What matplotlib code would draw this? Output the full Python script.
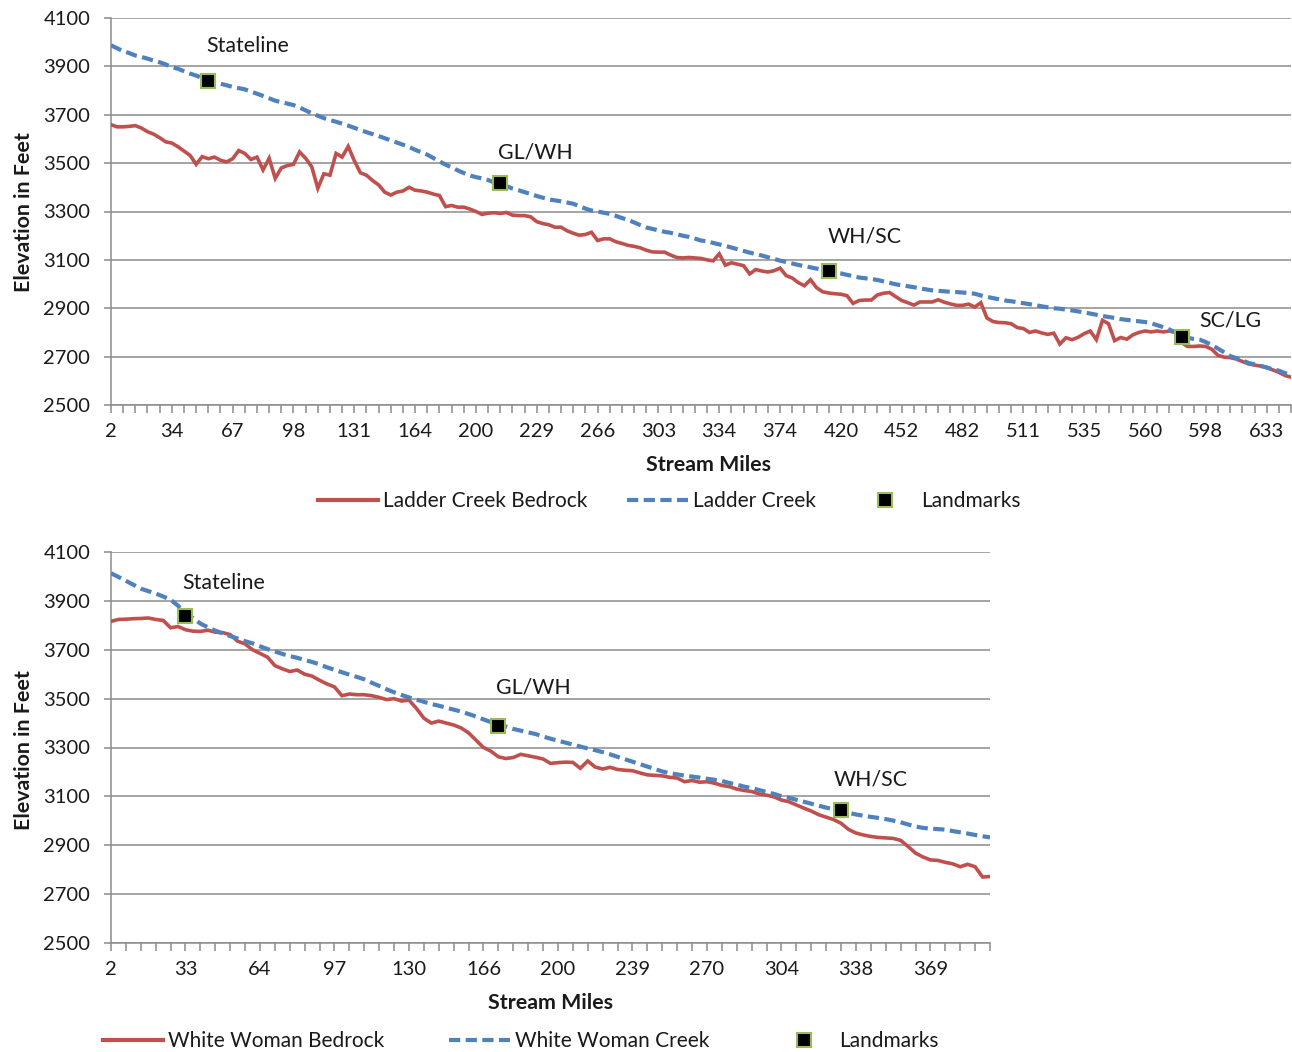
import matplotlib
matplotlib.use('Agg')
import matplotlib.pyplot as plt
from matplotlib.lines import Line2D
from matplotlib.ticker import FixedLocator, FixedFormatter, NullFormatter

plt.rcParams['font.family'] = ['Lato', 'DejaVu Sans']

# ---------------- data: Ladder Creek (top) ----------------
top_tick_labels = ['2', '34', '67', '98', '131', '164', '200', '229', '266', '303',
                   '334', '374', '420', '452', '482', '511', '535', '560', '598', '633']
top_bedrock = [
    3659, 3650, 3650, 3652, 3655, 3645, 3630, 3620, 3605, 3588,
    3583, 3568, 3550, 3532, 3495, 3527, 3518, 3525, 3512, 3505,
    3518, 3552, 3540, 3515, 3525, 3472, 3520, 3437, 3480, 3490,
    3495, 3546, 3520, 3485, 3396, 3456, 3450, 3540, 3525, 3569,
    3510, 3460, 3450, 3428, 3410, 3380, 3368, 3380, 3385, 3400,
    3388, 3385, 3380, 3372, 3366, 3320, 3325, 3318, 3318, 3310,
    3300, 3288, 3293, 3295, 3292, 3296, 3285, 3283, 3283, 3278,
    3258, 3250, 3245, 3235, 3235, 3220, 3210, 3202, 3205, 3214,
    3180, 3187, 3187, 3175, 3168, 3160, 3156, 3150, 3140, 3133,
    3132, 3132, 3120, 3110, 3108, 3110, 3108, 3106, 3100, 3096,
    3125, 3078, 3088, 3082, 3076, 3042, 3060, 3054, 3050, 3055,
    3066, 3035, 3025, 3006, 2993, 3018, 2985, 2968, 2963, 2960,
    2958, 2952, 2920, 2932, 2934, 2934, 2955, 2962, 2965, 2948,
    2932, 2923, 2913, 2926, 2926, 2926, 2935, 2925, 2918, 2912,
    2912, 2917, 2905, 2923, 2860, 2845, 2841, 2840, 2836, 2820,
    2816, 2800, 2806, 2798, 2792, 2797, 2752, 2778, 2770, 2780,
    2795, 2806, 2770, 2850, 2836, 2766, 2779, 2772, 2790, 2800,
    2806, 2802, 2806, 2802, 2806, 2800, 2758, 2742, 2742, 2744,
    2742, 2730, 2705, 2698, 2696, 2690, 2680, 2670, 2665, 2661,
    2655, 2645, 2635, 2622, 2615]
top_creek = [
    3987, 3975, 3963, 3955, 3945, 3939, 3932, 3924, 3917, 3908,
    3897, 3890, 3880, 3870, 3862, 3852, 3842, 3834, 3828, 3822,
    3815, 3810, 3805, 3796, 3787, 3778, 3768, 3758, 3752, 3746,
    3740, 3730, 3718, 3706, 3696, 3686, 3678, 3671, 3663, 3655,
    3646, 3637, 3628, 3620, 3612, 3603, 3594, 3585, 3576, 3567,
    3555, 3545, 3535, 3521, 3507, 3494, 3482, 3470, 3459, 3449,
    3442, 3437, 3430, 3420, 3413, 3405, 3395, 3388, 3380, 3372,
    3364, 3357, 3350, 3346, 3342, 3337, 3332, 3322, 3312, 3304,
    3300, 3295, 3290, 3282, 3273, 3265, 3255, 3244, 3234, 3228,
    3222, 3216, 3212, 3206, 3200, 3195, 3188, 3180, 3177, 3170,
    3164, 3158, 3151, 3144, 3137, 3130, 3124, 3118, 3111, 3104,
    3097, 3091, 3085, 3079, 3074, 3069, 3064, 3059, 3054, 3048,
    3044, 3038, 3033, 3027, 3024, 3021, 3017, 3011, 3005, 2999,
    2995, 2991, 2987, 2982, 2978, 2974, 2972, 2970, 2968, 2967,
    2965, 2963, 2960, 2953, 2947, 2942, 2937, 2932, 2929, 2925,
    2921, 2917, 2913, 2908, 2904, 2900, 2898, 2894, 2891, 2887,
    2883, 2878, 2873, 2868, 2864, 2860, 2855, 2852, 2849, 2846,
    2843, 2838, 2830, 2822, 2812, 2800, 2785, 2778, 2773, 2770,
    2760, 2748, 2733, 2718, 2702, 2694, 2685, 2674, 2668, 2662,
    2655, 2648, 2642, 2632, 2624]
top_landmark_idx = [16, 64, 118, 176]
top_landmark_val = [3840, 3418, 3054, 2783]
top_landmark_names = ['Stateline', 'GL/WH', 'WH/SC', 'SC/LG']

# ---------------- data: White Woman Creek (bottom) ----------------
bot_tick_labels = ['2', '33', '64', '97', '130', '166', '200', '239', '270', '304', '338', '369']
bot_bedrock = [
    3816, 3824, 3825, 3827, 3828, 3830, 3824, 3820, 3790, 3795,
    3782, 3776, 3775, 3780, 3772, 3770, 3762, 3735, 3724, 3700,
    3685, 3670, 3635, 3622, 3611, 3617, 3600, 3592, 3575, 3560,
    3548, 3512, 3519, 3516, 3516, 3512, 3505, 3496, 3500, 3490,
    3494, 3460, 3420, 3400, 3408, 3400, 3392, 3380, 3360, 3330,
    3300, 3285, 3262, 3255, 3259, 3272, 3266, 3260, 3253, 3235,
    3238, 3240, 3239, 3215, 3245, 3220, 3212, 3219, 3210, 3207,
    3205, 3196, 3188, 3186, 3184, 3178, 3175, 3160, 3165, 3158,
    3160, 3154, 3145, 3140, 3130, 3124, 3120, 3110, 3105, 3098,
    3085, 3078, 3065, 3052, 3040, 3025, 3015, 3005, 2990, 2965,
    2950, 2942, 2936, 2932, 2930, 2928, 2920, 2895, 2868, 2852,
    2840, 2838, 2830, 2824, 2812, 2822, 2812, 2770, 2772]
bot_creek = [
    4013, 3998, 3982, 3966, 3950, 3940, 3930, 3918, 3905, 3880,
    3850, 3830, 3807, 3792, 3778, 3767, 3756, 3746, 3735, 3726,
    3714, 3703, 3693, 3683, 3674, 3667, 3658, 3650, 3640, 3628,
    3618, 3608, 3598, 3589, 3579, 3565, 3552, 3538, 3526, 3515,
    3505, 3496, 3487, 3478, 3471, 3463, 3455, 3447, 3437, 3427,
    3415, 3404, 3395, 3386, 3376, 3369, 3362, 3355, 3345, 3336,
    3328, 3320, 3312, 3304, 3296, 3289, 3281, 3272, 3262, 3252,
    3242, 3232, 3222, 3212, 3202, 3195, 3190, 3185, 3181, 3177,
    3172, 3168, 3163, 3155, 3148, 3140, 3134, 3126, 3118, 3110,
    3101, 3094, 3086, 3078, 3070, 3062, 3054, 3047, 3042, 3033,
    3026, 3021, 3016, 3012, 3007, 3001, 2994, 2985, 2977, 2971,
    2968, 2966, 2964, 2958, 2953, 2948, 2942, 2937, 2932]
bot_landmark_idx = [10, 52, 98]
bot_landmark_val = [3840, 3388, 3045]
bot_landmark_names = ['Stateline', 'GL/WH', 'WH/SC']

y_ticks = [2500, 2700, 2900, 3100, 3300, 3500, 3700, 3900, 4100]

# ---------------- style ----------------
RED = '#C0504D'
BLUE = '#4F81BD'
GREEN = '#9BBB59'
GRID = '#8C8C8C'
TXT = '#1A1A1A'
FS_TICK = 14.5
FS = 15.4
FS_LEG = 15.0

W, H = 1292, 1052
fig = plt.figure(figsize=(W / 100, H / 100), dpi=100)


def fx(px):
    return px / W


def fy(py):
    return 1 - py / H


def draw(ax, bedrock, creek, lm_idx, lm_val, lm_names, tick_labels, label_offsets):
    n = len(creek)
    idx = list(range(n))
    ax.plot(idx, bedrock, color=RED, lw=2.6, solid_joinstyle='miter', zorder=3)
    ax.plot(idx, creek, color=BLUE, lw=3.0, dashes=(2.7, 1.3), dash_capstyle='butt', zorder=4)
    ax.plot(lm_idx, lm_val, ls='none', marker='s', ms=9.5, mfc='black', mec=GREEN, mew=1.5, zorder=5)
    for i, v, name, (dx, dy) in zip(lm_idx, lm_val, lm_names, label_offsets):
        ax.annotate(name, (i, v), xytext=(dx * 0.72, dy * 0.72), textcoords='offset points',
                    ha='left', va='center', fontsize=FS, color=TXT, zorder=6)
    ax.set_xlim(0, n - 1)
    ax.set_ylim(2500, 4100)
    ax.set_yticks(y_ticks)
    ax.set_yticklabels([str(t) for t in y_ticks])
    ax.yaxis.grid(True, color=GRID, lw=1.1, zorder=0)
    ax.set_axisbelow(True)
    major = list(range(0, len(tick_labels) * 10, 10))
    ax.xaxis.set_major_locator(FixedLocator(major))
    ax.xaxis.set_major_formatter(FixedFormatter(tick_labels))
    ax.xaxis.set_minor_locator(FixedLocator(list(range(0, n, 2))))
    ax.xaxis.set_minor_formatter(NullFormatter())
    for s in ['top', 'right']:
        ax.spines[s].set_visible(False)
    for s in ['left', 'bottom']:
        ax.spines[s].set_color(GRID)
        ax.spines[s].set_linewidth(1.1)
    ax.tick_params(axis='y', which='both', direction='out', length=5, width=1.1, color=GRID,
                   labelsize=FS_TICK, labelcolor=TXT, pad=10)
    ax.tick_params(axis='x', which='both', direction='out', length=6, width=1.1, color=GRID,
                   labelsize=FS_TICK, labelcolor=TXT, pad=7)


# top chart
ax1 = fig.add_axes([fx(111), fy(405), fx(1291) - fx(111), fy(18) - fy(405)])
draw(ax1, top_bedrock, top_creek, top_landmark_idx, top_landmark_val, top_landmark_names,
     top_tick_labels, [(-2, 35), (-2, 30), (-1, 35), (18, 16)])

# bottom chart
ax2 = fig.add_axes([fx(111), fy(943), fx(990) - fx(111), fy(552) - fy(943)])
draw(ax2, bot_bedrock, bot_creek, bot_landmark_idx, bot_landmark_val, bot_landmark_names,
     bot_tick_labels, [(-3, 33), (-2, 38), (-7, 30)])

# axis titles
fig.text(fx(24), fy(212), 'Elevation in Feet', rotation=90, ha='center', va='center',
         fontsize=FS, fontweight='bold', color=TXT)
fig.text(fx(24), fy(750), 'Elevation in Feet', rotation=90, ha='center', va='center',
         fontsize=FS, fontweight='bold', color=TXT)
fig.text(fx(708), fy(465), 'Stream Miles', ha='center', va='center',
         fontsize=FS, fontweight='bold', color=TXT)
fig.text(fx(550), fy(1003), 'Stream Miles', ha='center', va='center',
         fontsize=FS, fontweight='bold', color=TXT)


def legend(names, x0, y0, colspace):
    handles = [
        Line2D([], [], color=RED, lw=3.0),
        Line2D([], [], color=BLUE, lw=3.0, dashes=(2.7, 1.3)),
        Line2D([], [], ls='none', marker='s', ms=9.5, mfc='black', mec=GREEN, mew=1.5),
    ]
    fig.legend(handles, names, loc='center left', bbox_to_anchor=(fx(x0), fy(y0)),
               ncol=3, frameon=False, fontsize=FS_LEG, handlelength=2.9, handletextpad=0.24,
               columnspacing=colspace, borderpad=0, borderaxespad=0, labelcolor=TXT)


legend(['Ladder Creek Bedrock', 'Ladder Creek', 'Landmarks'], 318, 501, 1.9)
legend(['White Woman Bedrock', 'White Woman Creek', 'Landmarks'], 103, 1041, 3.1)

fig.savefig('out.png', dpi=100)
